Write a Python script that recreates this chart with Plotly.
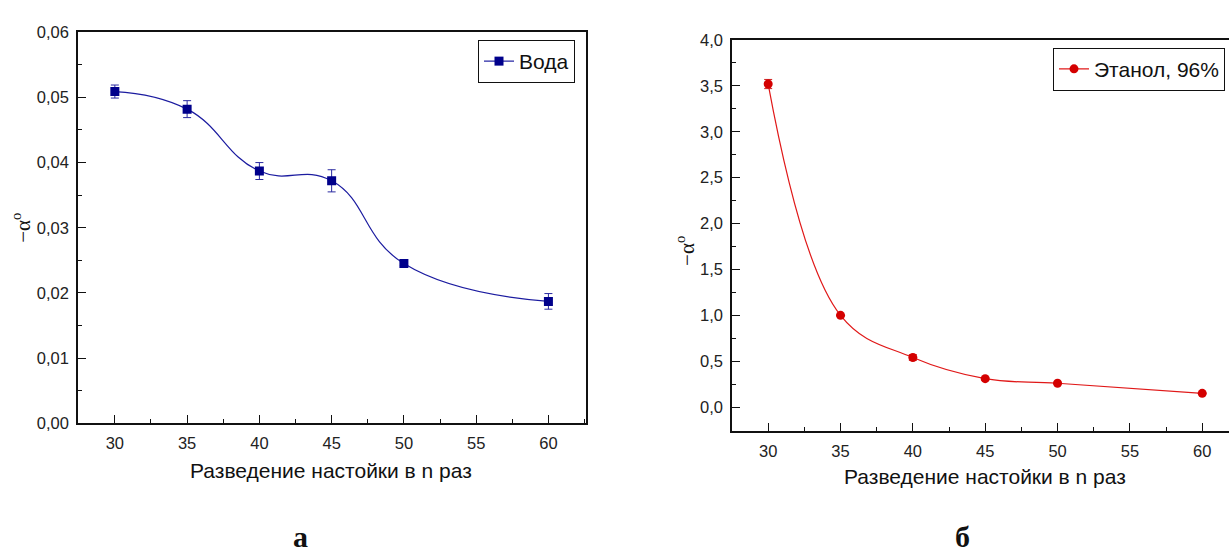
import plotly.graph_objects as go

dilution = [30, 35, 40, 45, 50, 60]
water = [0.0509, 0.0482, 0.0387, 0.0372, 0.0245, 0.0187]
water_err = [0.0010, 0.0013, 0.0013, 0.0017, 0.0003, 0.0012]
ethanol = [3.52, 1.00, 0.54, 0.31, 0.26, 0.15]
ethanol_err = [0.05, 0.01, 0.03, 0.01, 0.01, 0.01]
x_ticks = [30, 35, 40, 45, 50, 55, 60]

W, H = 1229, 560
NAVY = "#00008b"
RED = "#d40000"
SANS = "Liberation Sans, Arial"
SERIF = "Liberation Serif, Times New Roman"
TICKFONT = dict(family=SANS, size=16.5, color="#222")

fig = go.Figure()
fig.add_trace(go.Scatter(
    x=dilution, y=water, mode="lines+markers", name="Вода",
    line=dict(color="#1c1ca0", width=1.2, shape="spline", smoothing=1.3),
    marker=dict(symbol="square", size=9, color=NAVY),
    error_y=dict(type="data", array=water_err, color="#2a2aa0", thickness=1, width=4),
    xaxis="x", yaxis="y", legend="legend"))
fig.add_trace(go.Scatter(
    x=dilution, y=ethanol, mode="lines+markers", name="Этанол, 96%",
    line=dict(color="#e01818", width=1.2, shape="spline", smoothing=1.1),
    marker=dict(symbol="circle", size=9, color=RED),
    error_y=dict(type="data", array=ethanol_err, color="#d02020", thickness=1, width=4),
    xaxis="x2", yaxis="y2", legend="legend2"))


def axis(**kw):
    base = dict(showgrid=False, zeroline=False, showline=True, linecolor="#111",
                linewidth=1.6, ticks="inside", ticklen=8, tickwidth=1.3, tickcolor="#111",
                tickfont=TICKFONT, ticklabelstandoff=4)
    minor_dtick = kw.pop("minor_dtick")
    base["minor"] = dict(dtick=minor_dtick, ticks="inside", ticklen=4, tickwidth=1.2,
                         tickcolor="#111")
    base.update(kw)
    return base


fig.update_layout(
    width=W, height=H, margin=dict(l=0, r=0, t=0, b=0),
    paper_bgcolor="white", plot_bgcolor="white", separators=", ",
    showlegend=True,
    xaxis=axis(domain=[78/W, 586/W], range=[27.45, 62.6], tickvals=x_ticks,
               mirror=True, anchor="y", minor_dtick=2.5),
    yaxis=axis(domain=[1-428/H, 1-24/H], range=[0, 0.06], dtick=0.01, tickformat=".2f",
               mirror=True, anchor="x", minor_dtick=0.005),
    xaxis2=axis(domain=[732/W, 1.0], range=[27.5, 61.85], tickvals=x_ticks,
                mirror=True, anchor="y2", minor_dtick=2.5),
    yaxis2=axis(domain=[1-436/H, 1-32/H], range=[-0.26, 4.0], dtick=0.5, tickformat=".1f",
                mirror=False, anchor="x2", minor_dtick=0.25),
    legend=dict(x=575/W, y=1-32/H, xanchor="right", yanchor="top",
                bordercolor="#111", borderwidth=1, bgcolor="white",
                font=dict(family=SANS, size=21, color="#111"),
                itemwidth=30, tracegroupgap=0),
    legend2=dict(x=1225/W, y=1-40/H, xanchor="right", yanchor="top",
                 bordercolor="#111", borderwidth=1, bgcolor="white",
                 font=dict(family=SANS, size=21, color="#111"),
                 itemwidth=30),
)

ann_font = dict(family=SANS, size=21, color="#111")
yfont = dict(family=SERIF, size=21, color="#111")
annotations = [
    dict(text="Разведение настойки в n раз", x=331/W, y=1-477/H, font=ann_font),
    dict(text="Разведение настойки в n раз", x=985/W, y=1-483/H, font=ann_font),
    dict(text="−α<sup>o</sup>", x=22/W, y=1-226/H, textangle=-90, font=yfont),
    dict(text="−α<sup>o</sup>", x=686/W, y=1-250/H, textangle=-90, font=yfont),
    dict(text="<b>а</b>", x=300/W, y=1-545/H,
         font=dict(family=SERIF, size=30, color="#111")),
    dict(text="<b>б</b>", x=962/W, y=1-545/H,
         font=dict(family=SERIF, size=30, color="#111")),
]
for a in annotations:
    a.update(xref="paper", yref="paper", showarrow=False, xanchor="center", yanchor="middle")
fig.update_layout(annotations=annotations)

fig.write_html("out.html")
